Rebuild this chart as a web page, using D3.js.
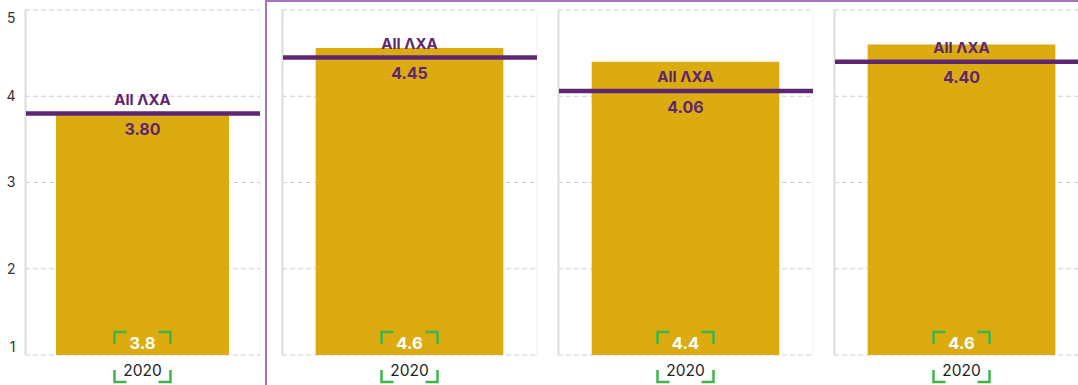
<!DOCTYPE html>
<html>
<head>
<meta charset="utf-8">
<script src="https://cdn.jsdelivr.net/npm/d3@7"></script>
<style>
  html, body { margin: 0; padding: 0; background: #fff; }
  svg { display: block; font-family: Inter, "Noto Sans", sans-serif; }
</style>
</head>
<body>
<svg id="chart" width="1078" height="385"></svg>
<script>
// Survey score per entity (one year) against the group-wide benchmark
const entities   = ["Entity 1", "Entity 2", "Entity 3", "Entity 4"];
const years      = ["2020"];
const scores     = [3.80, 4.56, 4.40, 4.60];
const benchmarks = [3.80, 4.45, 4.06, 4.40];
const yTicks     = [1, 2, 3, 4, 5];
const benchmarkLabel = "All ΛXA";

const COLORS = {
  bar: "#dbab10",
  bench: "#5e2671",
  frame: "#a574bd",
  grid: "#cfcfcf",
  axis: "#dcdcdc",
  select: "#3db54a",
  text: "#222"
};

const svg = d3.select("#chart");
const plotTop = 10, plotBottom = 355;

const y = d3.scaleLinear().domain([1, 5]).range([plotBottom, plotTop]);

// first panel carries the value axis; the rest sit inside the framed group
const firstPanel = { x0: 25, x1: 260 };
const groupX = d3.scaleBand()
  .domain(entities.slice(1))
  .range([282, 1089])
  .paddingInner(21 / 276)
  .paddingOuter(0);

const panels = entities.map((e, i) => {
  const x0 = i === 0 ? firstPanel.x0 : groupX(e);
  const w = i === 0 ? firstPanel.x1 - firstPanel.x0 : groupX.bandwidth();
  return { entity: e, x0, w, score: scores[i], bench: benchmarks[i] };
});

// frame around the grouped panels
svg.append("rect")
  .attr("x", 266).attr("y", 1)
  .attr("width", 900).attr("height", 500)
  .attr("fill", "none")
  .attr("stroke", COLORS.frame)
  .attr("stroke-width", 2);

// value axis labels (end labels pulled inside the plot)
svg.append("g").selectAll("text")
  .data(yTicks)
  .join("text")
  .attr("x", 15.5)
  .attr("y", d => y(d) + (d === 5 ? 8 : d === 1 ? -8 : 0))
  .attr("dy", "0.35em")
  .attr("text-anchor", "end")
  .attr("font-size", 14)
  .attr("fill", "#333")
  .text(d => d);

const fmt1 = d3.format(".1f");
const fmt2 = d3.format(".2f");

panels.forEach(p => {
  const g = svg.append("g").attr("transform", `translate(${p.x0},0)`);
  const x = d3.scaleBand().domain(years).range([0, p.w]).padding(0.152);
  const cx = x(years[0]) + x.bandwidth() / 2;

  // right edge
  g.append("line")
    .attr("x1", p.w).attr("x2", p.w)
    .attr("y1", plotTop).attr("y2", plotBottom)
    .attr("stroke", "#f0f0f0").attr("stroke-width", 1);

  // dashed grid
  g.append("g").selectAll("line")
    .data(yTicks)
    .join("line")
    .attr("x1", 0).attr("x2", p.w)
    .attr("y1", d => y(d)).attr("y2", d => y(d))
    .attr("stroke", COLORS.grid)
    .attr("stroke-width", 1)
    .attr("stroke-dasharray", "5,3");

  // left edge
  g.append("line")
    .attr("x1", 0.5).attr("x2", 0.5)
    .attr("y1", plotTop).attr("y2", plotBottom)
    .attr("stroke", COLORS.axis).attr("stroke-width", 2);

  // bar
  g.append("rect")
    .attr("x", x(years[0]))
    .attr("y", y(p.score))
    .attr("width", x.bandwidth())
    .attr("height", y(1) - y(p.score))
    .attr("fill", COLORS.bar);

  // benchmark line
  const by = y(p.bench);
  g.append("line")
    .attr("x1", 1).attr("x2", p.w)
    .attr("y1", by).attr("y2", by)
    .attr("stroke", COLORS.bench)
    .attr("stroke-width", 4.5);

  g.append("text")
    .attr("x", cx).attr("y", by - 14)
    .attr("dy", "0.35em")
    .attr("text-anchor", "middle")
    .attr("font-size", 15)
    .attr("font-weight", 700)
    .attr("fill", COLORS.bench)
    .text(benchmarkLabel);

  g.append("text")
    .attr("x", cx).attr("y", by + 16)
    .attr("dy", "0.35em")
    .attr("text-anchor", "middle")
    .attr("font-size", 16)
    .attr("font-weight", 700)
    .attr("fill", COLORS.bench)
    .text(fmt2(p.bench));

  // score label at the bar foot
  g.append("text")
    .attr("x", cx).attr("y", 343)
    .attr("dy", "0.35em")
    .attr("text-anchor", "middle")
    .attr("font-size", 16.5)
    .attr("font-weight", 700)
    .attr("fill", "#fff")
    .text(fmt1(p.score));

  // category label
  g.append("text")
    .attr("x", cx).attr("y", 371)
    .attr("dy", "0.35em")
    .attr("text-anchor", "middle")
    .attr("font-size", 15.5)
    .attr("fill", COLORS.text)
    .text(years[0]);

  // selection brackets
  const half = 28, arm = 12, h = 12;
  const l = cx - half, r = cx + half;
  const sel = g.append("g")
    .attr("fill", "none")
    .attr("stroke", COLORS.select)
    .attr("stroke-width", 2.5);
  const t = 332;
  sel.append("path").attr("d", `M${l + arm},${t} H${l} V${t + h}`);
  sel.append("path").attr("d", `M${r - arm},${t} H${r} V${t + h}`);
  const b = 382;
  sel.append("path").attr("d", `M${l},${b - h} V${b} H${l + arm}`);
  sel.append("path").attr("d", `M${r},${b - h} V${b} H${r - arm}`);
});
</script>
</body>
</html>
